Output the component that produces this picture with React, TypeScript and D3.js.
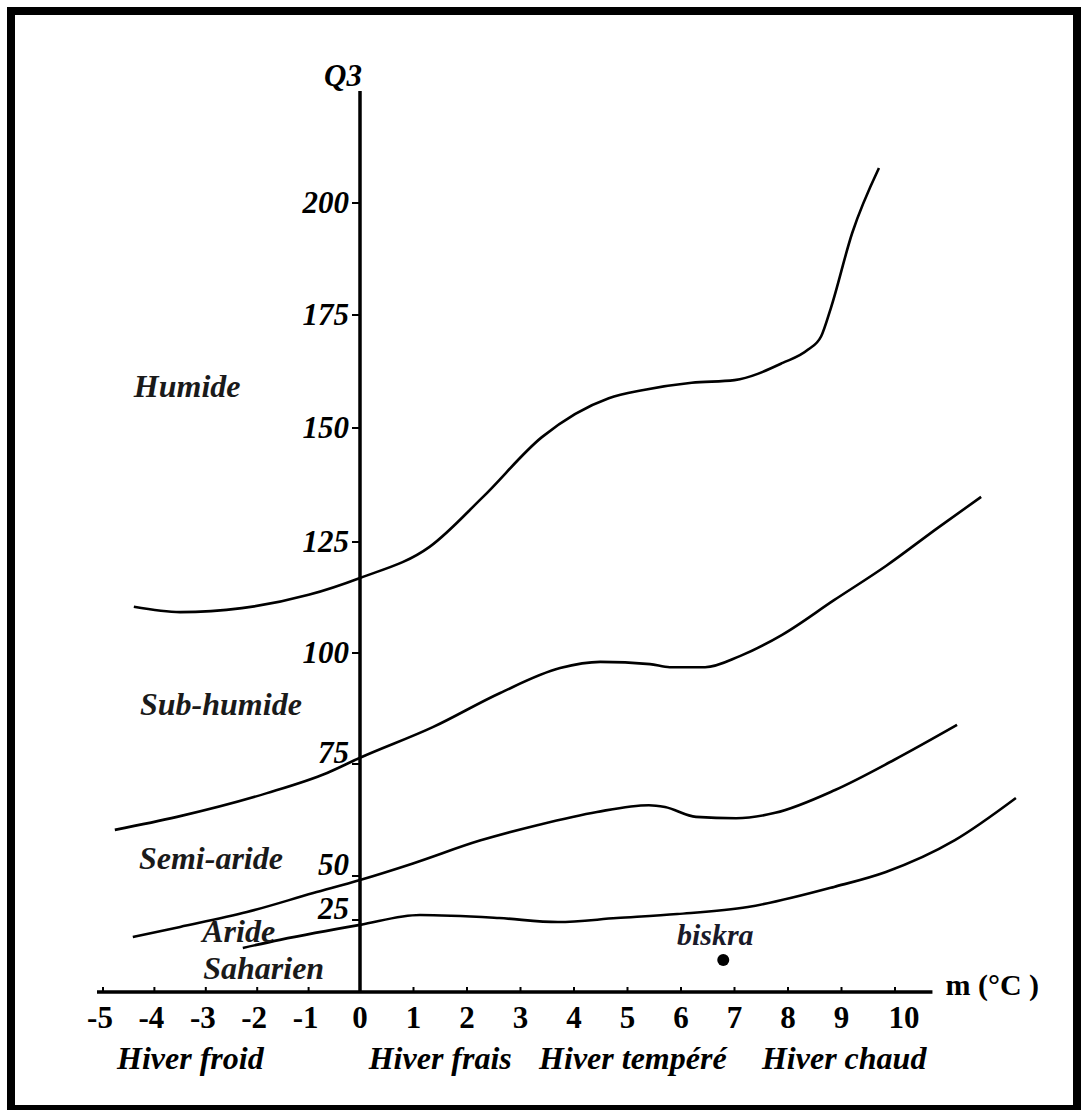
import React, { useEffect, useRef } from "react";
import * as d3 from "d3";

const W = 1083;
const H = 1110;
const FONT = "'Liberation Serif', 'Times New Roman', serif";

// axis ticks
const q3Ticks = [25, 50, 75, 100, 125, 150, 175, 200];
const mTicks = [-5, -4, -3, -2, -1, 0, 1, 2, 3, 4, 5, 6, 7, 8, 9, 10];

// boundary curves of the climagram (m in °C, Q3)
const humideM = [-4.4, -3.5, -2.3, -1.0, 0, 1.3, 2.3, 3.4, 4.65, 5.3, 6.2, 7.0, 7.9, 8.37, 8.62, 8.8, 9.2, 9.7];
const humideQ = [110.4, 109.2, 110.1, 113.1, 116.9, 123.9, 134.9, 148, 156.6, 158.4, 160, 160.6, 164.4, 167.3, 170.3, 176.5, 193.3, 207.8];

const subHumideM = [-4.77, -3.56, -1.81, -0.64, 0, 1.36, 2.62, 3.74, 4.49, 5.42, 5.79, 6.45, 7.1, 7.89, 8.86, 9.83, 10.8, 11.61];
const subHumideQ = [60.3, 63.2, 68.5, 73.0, 76.4, 83.3, 91.0, 96.6, 98.0, 97.5, 96.8, 96.8, 99.3, 104.1, 111.9, 119.6, 128.1, 134.9];

const semiArideM = [-4.42, -3.5, -2.2, -0.91, 0, 0.99, 2.24, 3.33, 4.43, 5.4, 5.7, 6.28, 7.03, 7.76, 8.88, 9.98, 11.16];
const semiArideQ = [19.1, 22.6, 29.5, 40.3, 47.7, 52.8, 57.9, 61.4, 64.3, 65.8, 65.4, 63.2, 62.9, 64.1, 69.2, 75.9, 83.8];

const arideM = [-2.28, -1.56, 0, 1.12, 2.6, 3.7, 4.8, 5.93, 7.25, 8.86, 9.83, 11.12, 12.26];
const arideQ = [15.3, 18.1, 23.3, 27.8, 26.1, 24.3, 26.1, 28.4, 32.4, 43.8, 50.9, 58.0, 67.4];

// bioclimatic zones (label anchor in m / Q3)
const zoneNames = ["Humide", "Sub-humide", "Semi-aride", "Aride", "Saharien"];
const zoneM = [-4.4, -4.28, -4.3, -3.07, -3.05];
const zoneQ = [156.9, 86.0, 51.6, 17.4, 4.5];

// winter variants along m
const winterNames = ["Hiver froid", "Hiver frais", "Hiver tempéré", "Hiver chaud"];
const winterM = [-3.3, 1.5, 5.1, 9.05];

// station
const stationName = "biskra";
const stationM = 6.79;
const stationQ = 11.1;

const App = () => {
  const ref = useRef<SVGSVGElement | null>(null);

  useEffect(() => {
    const svg = d3.select(ref.current);
    svg.selectAll("*").remove();

    const x = d3.scaleLinear().domain([-5, 0, 10]).range([103, 360, 895]);
    const y = d3
      .scaleLinear()
      .domain([0, 25, 50, 75, 100, 125, 150, 175, 200, 225])
      .range([992, 920, 876, 764, 653, 542, 428, 315, 203, 91]);

    // frame
    svg
      .append("rect")
      .attr("x", 11)
      .attr("y", 11)
      .attr("width", W - 17)
      .attr("height", H - 12)
      .attr("fill", "white")
      .attr("stroke", "black")
      .attr("stroke-width", 8);

    // y axis
    svg
      .append("line")
      .attr("x1", x(0))
      .attr("x2", x(0))
      .attr("y1", y(225))
      .attr("y2", y(0))
      .attr("stroke", "black")
      .attr("stroke-width", 3.5);

    svg
      .append("text")
      .attr("x", x(0) - 17)
      .attr("y", y(225) - 5)
      .attr("text-anchor", "middle")
      .attr("font-family", FONT)
      .attr("font-weight", "bold")
      .attr("font-style", "italic")
      .attr("font-size", 31)
      .text("Q3");

    const yt = svg.append("g").selectAll("g").data(q3Ticks).join("g");
    yt.append("line")
      .attr("x1", x(0) - 8)
      .attr("x2", x(0))
      .attr("y1", (d) => y(d))
      .attr("y2", (d) => y(d))
      .attr("stroke", "black")
      .attr("stroke-width", 2);
    yt.append("text")
      .attr("x", x(0) - 11)
      .attr("y", (d) => y(d) + (d <= 75 ? -1 : 10))
      .attr("text-anchor", "end")
      .attr("font-family", FONT)
      .attr("font-weight", "bold")
      .attr("font-style", "italic")
      .attr("font-size", 31)
      .text((d) => d);

    // x axis
    svg
      .append("line")
      .attr("x1", x(-5) - 6)
      .attr("x2", x(10.7))
      .attr("y1", y(0))
      .attr("y2", y(0))
      .attr("stroke", "black")
      .attr("stroke-width", 3.5);

    const xt = svg.append("g").selectAll("g").data(mTicks).join("g");
    xt.append("line")
      .attr("x1", (d) => x(d))
      .attr("x2", (d) => x(d))
      .attr("y1", y(0) - 5)
      .attr("y2", y(0))
      .attr("stroke", "black")
      .attr("stroke-width", 2);
    xt.append("text")
      .attr("x", (d) => x(d) + (d === 10 ? 9 : d < 0 ? -3 : 0))
      .attr("y", y(0) + 36)
      .attr("text-anchor", "middle")
      .attr("font-family", FONT)
      .attr("font-weight", "bold")
      .attr("font-size", 31)
      .text((d) => d);

    svg
      .append("text")
      .attr("x", x(10.7) + 13)
      .attr("y", y(0) + 3)
      .attr("font-family", FONT)
      .attr("font-weight", "bold")
      .attr("font-size", 30)
      .text("m (°C )");

    // boundary curves
    const line = d3
      .line<[number, number]>()
      .x((d) => x(d[0]))
      .y((d) => y(d[1]))
      .curve(d3.curveMonotoneX);

    const curves = [
      [humideM, humideQ],
      [subHumideM, subHumideQ],
      [semiArideM, semiArideQ],
      [arideM, arideQ],
    ].map(([ms, qs]) => ms.map((m, i) => [m, qs[i]] as [number, number]));

    svg
      .append("g")
      .selectAll("path")
      .data(curves)
      .join("path")
      .attr("d", (d) => line(d))
      .attr("fill", "none")
      .attr("stroke", "black")
      .attr("stroke-width", 2.6);

    // zone labels
    svg
      .append("g")
      .selectAll("text")
      .data(zoneNames)
      .join("text")
      .attr("x", (d, i) => x(zoneM[i]))
      .attr("y", (d, i) => y(zoneQ[i]))
      .attr("font-family", FONT)
      .attr("font-weight", "bold")
      .attr("font-style", "italic")
      .attr("font-size", 32)
      .attr("fill", "#1a1a1a")
      .text((d) => d);

    // winter labels
    svg
      .append("g")
      .selectAll("text")
      .data(winterNames)
      .join("text")
      .attr("x", (d, i) => x(winterM[i]))
      .attr("y", y(0) + 77)
      .attr("text-anchor", "middle")
      .attr("font-family", FONT)
      .attr("font-weight", "bold")
      .attr("font-style", "italic")
      .attr("font-size", 32)
      .text((d) => d);

    // station point
    svg
      .append("circle")
      .attr("cx", x(stationM))
      .attr("cy", y(stationQ))
      .attr("r", 6)
      .attr("fill", "black");

    svg
      .append("text")
      .attr("x", x(stationM) - 8)
      .attr("y", y(stationQ) - 15)
      .attr("text-anchor", "middle")
      .attr("font-family", FONT)
      .attr("font-weight", "bold")
      .attr("font-style", "italic")
      .attr("font-size", 30)
      .attr("fill", "#1a1a2a")
      .text(stationName);
  }, []);

  return (
    <svg
      ref={ref}
      width={W}
      height={H}
      style={{ position: "absolute", left: 0, top: 0, background: "white" }}
    />
  );
};

export default App;
